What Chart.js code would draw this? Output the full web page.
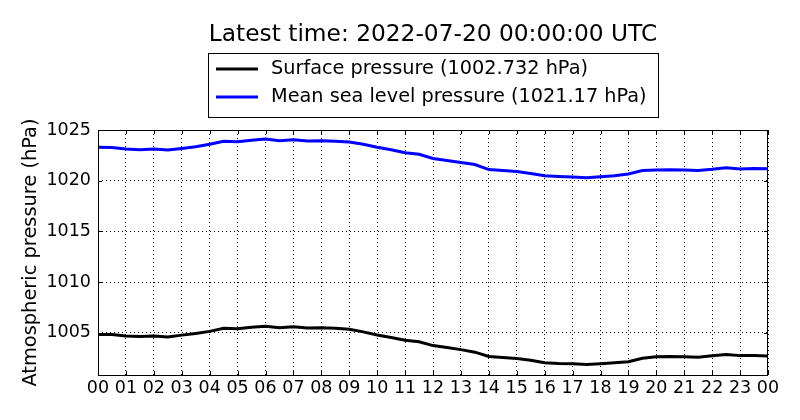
<!DOCTYPE html>
<html lang="en">
<head>
    <meta charset="UTF-8">
    <title>Atmospheric pressure</title>
    <style>
        html, body { margin: 0; padding: 0; background: #fff; }
        #wrap { width: 800px; height: 420px; }
    </style>
</head>
<body>
    <div id="wrap"><canvas id="pressureChart" width="800" height="420"></canvas></div>

<script src="https://cdn.jsdelivr.net/npm/chart.js"></script>
<script>
    const titleText = 'Latest time: 2022-07-20 00:00:00 UTC';

    // hours since 00 UTC, half-hour steps
    const hours = [0, 0.5, 1, 1.5, 2, 2.5, 3, 3.5, 4, 4.5, 5, 5.5, 6, 6.5, 7, 7.5, 8, 8.5, 9, 9.5,
        10, 10.5, 11, 11.5, 12, 12.5, 13, 13.5, 14, 14.5, 15, 15.5, 16, 16.5, 17, 17.5, 18, 18.5,
        19, 19.5, 20, 20.5, 21, 21.5, 22, 22.5, 23, 23.5, 24];

    const surfacePressure = [1004.85, 1004.83, 1004.70, 1004.64, 1004.70, 1004.60, 1004.78, 1004.95,
        1005.15, 1005.45, 1005.42, 1005.55, 1005.65, 1005.50, 1005.60, 1005.48, 1005.50, 1005.45,
        1005.35, 1005.10, 1004.80, 1004.55, 1004.28, 1004.12, 1003.75, 1003.55, 1003.35, 1003.10,
        1002.68, 1002.58, 1002.48, 1002.30, 1002.05, 1001.98, 1001.96, 1001.88, 1001.97, 1002.05,
        1002.15, 1002.50, 1002.66, 1002.68, 1002.66, 1002.60, 1002.74, 1002.88, 1002.76, 1002.78,
        1002.73];

    const mslPressure = [1023.30, 1023.28, 1023.12, 1023.05, 1023.12, 1023.02, 1023.18, 1023.35,
        1023.60, 1023.88, 1023.85, 1023.98, 1024.10, 1023.95, 1024.05, 1023.92, 1023.95, 1023.90,
        1023.82, 1023.60, 1023.30, 1023.05, 1022.75, 1022.60, 1022.20, 1022.00, 1021.80, 1021.60,
        1021.10, 1021.00, 1020.90, 1020.72, 1020.50, 1020.42, 1020.36, 1020.30, 1020.40, 1020.48,
        1020.66, 1021.00, 1021.06, 1021.08, 1021.05, 1021.00, 1021.12, 1021.28, 1021.16, 1021.20,
        1021.17];

    const seriesLabels = ['Surface pressure (1002.732 hPa)', 'Mean sea level pressure (1021.17 hPa)'];
    const yTicks = [1005, 1010, 1015, 1020, 1025];

    const font = 'DejaVu Sans';

    // title, boxed legend, frame and inward ticks, drawn like the matplotlib original
    const decorPlugin = {
        id: 'decor',
        afterDraw(chart) {
            const ctx = chart.ctx;
            const area = chart.chartArea;
            ctx.save();

            ctx.strokeStyle = '#000';
            ctx.lineWidth = 1;
            ctx.strokeRect(area.left + 0.5, area.top + 0.5, area.right - area.left - 1, area.bottom - area.top);

            // inward tick marks on all four sides
            const tl = 4;
            ctx.beginPath();
            chart.scales.x.ticks.forEach(t => {
                const px = Math.round(chart.scales.x.getPixelForValue(t.value)) + 0.5;
                ctx.moveTo(px, area.bottom); ctx.lineTo(px, area.bottom - tl);
                ctx.moveTo(px, area.top); ctx.lineTo(px, area.top + tl);
            });
            chart.scales.y.ticks.forEach(t => {
                const py = Math.round(chart.scales.y.getPixelForValue(t.value)) + 0.5;
                ctx.moveTo(area.left, py); ctx.lineTo(area.left + tl, py);
                ctx.moveTo(area.right, py); ctx.lineTo(area.right - tl, py);
            });
            ctx.stroke();

            ctx.fillStyle = '#000';
            ctx.font = '23.3px "' + font + '"';
            ctx.textAlign = 'center';
            ctx.textBaseline = 'middle';
            ctx.fillText(titleText, (area.left + area.right) / 2, 35);

            const bx = 208, by = 53, bw = 450, bh = 64;
            ctx.fillStyle = '#fff';
            ctx.fillRect(bx, by, bw, bh);
            ctx.strokeStyle = '#000';
            ctx.strokeRect(bx + 0.5, by + 0.5, bw, bh);

            ctx.font = '19.3px "' + font + '"';
            ctx.textAlign = 'left';
            chart.data.datasets.forEach((ds, i) => {
                const y = 69 + i * 28;
                ctx.strokeStyle = ds.borderColor;
                ctx.lineWidth = 3;
                ctx.beginPath();
                ctx.moveTo(216, y);
                ctx.lineTo(258, y);
                ctx.stroke();
                ctx.fillStyle = '#000';
                ctx.fillText(ds.label, 271, y);
            });
            ctx.restore();
        }
    };

    const ctx = document.getElementById('pressureChart').getContext('2d');
    const chart = new Chart(ctx, {
        type: 'line',
        data: {
            datasets: [{
                label: seriesLabels[0],
                data: hours.map((h, i) => ({ x: h, y: surfacePressure[i] })),
                borderColor: '#000000',
                borderWidth: 3,
                pointRadius: 0,
                tension: 0
            }, {
                label: seriesLabels[1],
                data: hours.map((h, i) => ({ x: h, y: mslPressure[i] })),
                borderColor: '#0000ff',
                borderWidth: 3,
                pointRadius: 0,
                tension: 0
            }]
        },
        options: {
            responsive: false,
            animation: false,
            layout: { padding: { top: 130, right: 32, left: 0, bottom: 0 } },
            plugins: {
                legend: { display: false },
                title: { display: false },
                tooltip: { enabled: false }
            },
            scales: {
                x: {
                    type: 'linear',
                    min: 0,
                    max: 24,
                    afterFit(scale) { scale.height = 45; },
                    afterBuildTicks(scale) {
                        scale.ticks = hours.filter(h => Number.isInteger(h)).map(h => ({ value: h }));
                    },
                    ticks: {
                        autoSkip: false,
                        maxRotation: 0,
                        padding: 3,
                        color: '#000',
                        font: { family: font, size: 17.5 },
                        callback: v => String(v % 24).padStart(2, '0')
                    },
                    grid: { color: '#000', lineWidth: 1, drawTicks: false },
                    border: { display: false, dash: [1, 3] }
                },
                y: {
                    min: 1000.85,
                    max: 1025,
                    afterFit(scale) { scale.width = 98; },
                    afterBuildTicks(scale) {
                        scale.ticks = yTicks.map(v => ({ value: v }));
                    },
                    ticks: {
                        padding: 7,
                        color: '#000',
                        font: { family: font, size: 17.5 },
                        callback: v => String(v)
                    },
                    title: {
                        display: true,
                        text: 'Atmospheric pressure (hPa)',
                        color: '#000',
                        font: { family: font, size: 19.4 },
                        padding: { top: 19, bottom: 0 }
                    },
                    grid: { color: '#000', lineWidth: 1, drawTicks: false },
                    border: { display: false, dash: [1, 3] }
                }
            }
        },
        plugins: [decorPlugin]
    });
</script>
</body>
</html>
